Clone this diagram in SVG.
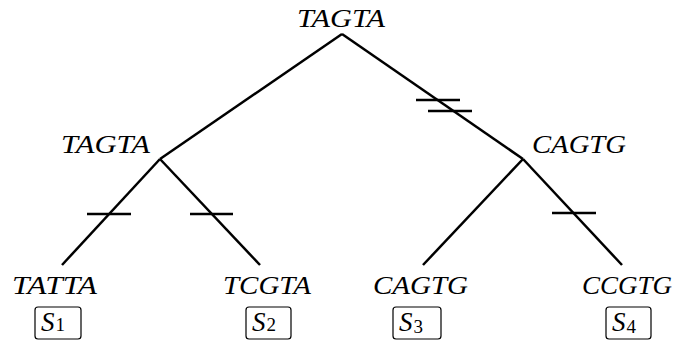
<svg xmlns="http://www.w3.org/2000/svg" width="674" height="340" viewBox="0 0 674 340">
  <style>
    .edge { stroke: #000; stroke-width: 2.5; fill: none; }
    .tick { stroke: #000; stroke-width: 2.5; }
    text { font-family: "Liberation Serif", "DejaVu Serif", serif; fill: #000; }
    .seq { font-style: italic; font-size: 26px; }
    .tag { fill: #fff; stroke: #000; stroke-width: 1.2; }
    .lbl { font-size: 27px; }
    .s { font-style: italic; }
    .sub { font-size: 19px; font-style: normal; }
  </style>
  <rect width="674" height="340" fill="#fff"/>

  <!-- tree edges and mutation ticks -->
  <g id="connectors">
    <line class="edge" x1="342" y1="34" x2="160" y2="159"/>
    <line class="edge" x1="342" y1="34" x2="523" y2="159"/>
    <line class="edge" x1="160" y1="159" x2="62" y2="265"/>
    <line class="edge" x1="160" y1="159" x2="260" y2="265"/>
    <line class="edge" x1="523" y1="159" x2="423" y2="265"/>
    <line class="edge" x1="523" y1="159" x2="622" y2="265"/>
    <line class="tick" x1="416" y1="100" x2="460" y2="100"/>
    <line class="tick" x1="428" y1="111" x2="472" y2="111"/>
    <line class="tick" x1="87" y1="214" x2="131" y2="214"/>
    <line class="tick" x1="190" y1="214" x2="233" y2="214"/>
    <line class="tick" x1="552" y1="213" x2="596" y2="213"/>
  </g>

  <g id="root">
    <text class="seq" x="297" y="27" textLength="88" lengthAdjust="spacingAndGlyphs">TAGTA</text>
  </g>
  <g id="left">
    <text class="seq" x="61" y="153" textLength="89" lengthAdjust="spacingAndGlyphs">TAGTA</text>
  </g>
  <g id="right">
    <text class="seq" x="532" y="153" textLength="94" lengthAdjust="spacingAndGlyphs">CAGTG</text>
  </g>

  <g id="leaf1">
    <text class="seq" x="12" y="294" textLength="85" lengthAdjust="spacingAndGlyphs">TATTA</text>
    <rect class="tag" x="35" y="307" width="46" height="32" rx="3"/>
    <text class="lbl" x="41" y="331"><tspan class="s">S</tspan><tspan class="sub" dx="1">1</tspan></text>
  </g>
  <g id="leaf2">
    <text class="seq" x="223" y="294" textLength="88" lengthAdjust="spacingAndGlyphs">TCGTA</text>
    <rect class="tag" x="246" y="307" width="45" height="32" rx="3"/>
    <text class="lbl" x="252" y="331"><tspan class="s">S</tspan><tspan class="sub" dx="1">2</tspan></text>
  </g>
  <g id="leaf3">
    <text class="seq" x="373" y="294" textLength="95" lengthAdjust="spacingAndGlyphs">CAGTG</text>
    <rect class="tag" x="393" y="307" width="48" height="32" rx="3"/>
    <text class="lbl" x="399" y="331"><tspan class="s">S</tspan><tspan class="sub" dx="1" dy="2">3</tspan></text>
  </g>
  <g id="leaf4">
    <text class="seq" x="582" y="294" textLength="90" lengthAdjust="spacingAndGlyphs">CCGTG</text>
    <rect class="tag" x="606" y="307" width="45" height="32" rx="3"/>
    <text class="lbl" x="612" y="331"><tspan class="s">S</tspan><tspan class="sub" dx="1" dy="2">4</tspan></text>
  </g>
</svg>
